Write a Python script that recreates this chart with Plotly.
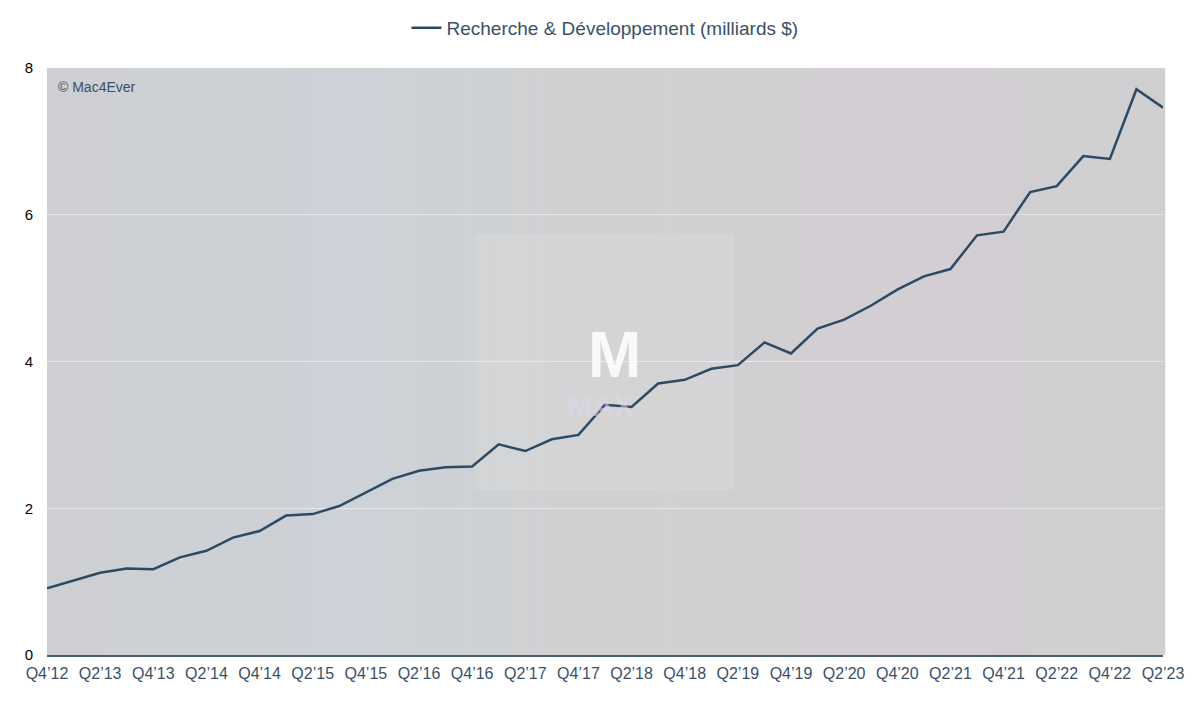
import plotly.graph_objects as go

quarters = [
    "Q4’12", "Q1’13", "Q2’13", "Q3’13", "Q4’13", "Q1’14", "Q2’14", "Q3’14", "Q4’14",
    "Q1’15", "Q2’15", "Q3’15", "Q4’15", "Q1’16", "Q2’16", "Q3’16", "Q4’16",
    "Q1’17", "Q2’17", "Q3’17", "Q4’17", "Q1’18", "Q2’18", "Q3’18", "Q4’18",
    "Q1’19", "Q2’19", "Q3’19", "Q4’19", "Q1’20", "Q2’20", "Q3’20", "Q4’20",
    "Q1’21", "Q2’21", "Q3’21", "Q4’21", "Q1’22", "Q2’22", "Q3’22", "Q4’22",
    "Q1’23", "Q2’23",
]
rd_values = [
    0.91, 1.01, 1.12, 1.18, 1.17, 1.33, 1.42, 1.60, 1.69,
    1.90, 1.92, 2.03, 2.22, 2.40, 2.51, 2.56, 2.57,
    2.87, 2.78, 2.94, 3.00, 3.41, 3.38, 3.70, 3.75,
    3.90, 3.95, 4.26, 4.11, 4.45, 4.57, 4.76, 4.98,
    5.16, 5.26, 5.72, 5.77, 6.31, 6.39, 6.80, 6.76,
    7.71, 7.46,
]
tick_labels = quarters[::2]
y_ticks = [0, 2, 4, 6, 8]

LINE = "#2d4a64"
TEXT = "#3b5068"

fig = go.Figure()
fig.add_trace(go.Scatter(
    x=quarters, y=rd_values, mode="lines",
    name="Recherche & Développement (milliards $)",
    line=dict(color=LINE, width=2.5),
))

# soft background tint (blue on the left, pink on the right)
def lerp(c1, c2, t):
    return tuple(round(a + (b - a) * t) for a, b in zip(c1, c2))

stops = [(0.0, (206, 207, 210)), (0.28, (204, 210, 216)), (0.5, (208, 208, 209)),
         (0.75, (211, 206, 212)), (1.0, (207, 207, 208))]
shapes = []
n = 60
for k in range(n):
    t = (k + 0.5) / n
    for j in range(len(stops) - 1):
        if stops[j][0] <= t <= stops[j + 1][0]:
            tt = (t - stops[j][0]) / (stops[j + 1][0] - stops[j][0])
            c = lerp(stops[j][1], stops[j + 1][1], tt)
            break
    shapes.append(dict(type="rect", xref="paper", yref="paper",
                       x0=k / n, x1=(k + 1) / n + 0.002, y0=0, y1=1,
                       fillcolor="rgb(%d,%d,%d)" % c, line=dict(width=0), layer="below"))
# watermark panel
shapes.append(dict(type="rect", xref="paper", yref="paper",
                   x0=(476 - 47) / 1116, x1=(734 - 47) / 1116,
                   y0=(655 - 490) / 587, y1=(655 - 234) / 587,
                   fillcolor="rgba(222,222,222,0.3)", line=dict(width=0), layer="below"))

fig.update_layout(
    width=1200, height=702,
    margin=dict(l=47, r=37, t=68, b=47),
    paper_bgcolor="white",
    plot_bgcolor="#cfcfd1",
    font=dict(family="Liberation Sans, Arial, sans-serif", color=TEXT),
    showlegend=True,
    legend=dict(orientation="h", x=0.5, xanchor="center",
                y=1 - 28 / 702, yanchor="middle", yref="container",
                font=dict(size=19, color=TEXT), itemwidth=30),
    shapes=shapes,
    annotations=[
        dict(text="© Mac4Ever", xref="paper", yref="paper", x=0.008, y=0.985,
             xanchor="left", yanchor="top", showarrow=False,
             font=dict(size=14, color=TEXT)),
        dict(text="<b>M</b>", xref="paper", yref="paper",
             x=(614 - 47) / 1116, y=(655 - 355) / 587, xanchor="center", yanchor="middle",
             showarrow=False, font=dict(size=64, color="rgba(255,255,255,0.85)",
                                        family="Liberation Sans, Arial, sans-serif")),
        dict(text="<b>MAX</b>", xref="paper", yref="paper",
             x=(600 - 47) / 1116, y=(655 - 405) / 587, xanchor="center", yanchor="middle",
             showarrow=False, font=dict(size=30, color="rgba(225,215,240,0.55)",
                                        family="Liberation Sans, Arial, sans-serif")),
    ],
)

fig.update_xaxes(
    type="category", range=[0, len(quarters) - 1],
    tickmode="array", tickvals=tick_labels, ticktext=tick_labels,
    tickfont=dict(size=16, color=TEXT), showgrid=False,
    showline=True, linecolor="#4a5e73", linewidth=1.5, ticks="",
    ticklabelstandoff=3,
)
fig.update_yaxes(
    range=[0, 8], tickvals=y_ticks, tickfont=dict(size=15, color="black"),
    showgrid=True, gridcolor="rgba(235,235,238,0.8)", gridwidth=1,
    zeroline=False, ticks="", ticklabelstandoff=13,
)

fig.write_html("out.html")
